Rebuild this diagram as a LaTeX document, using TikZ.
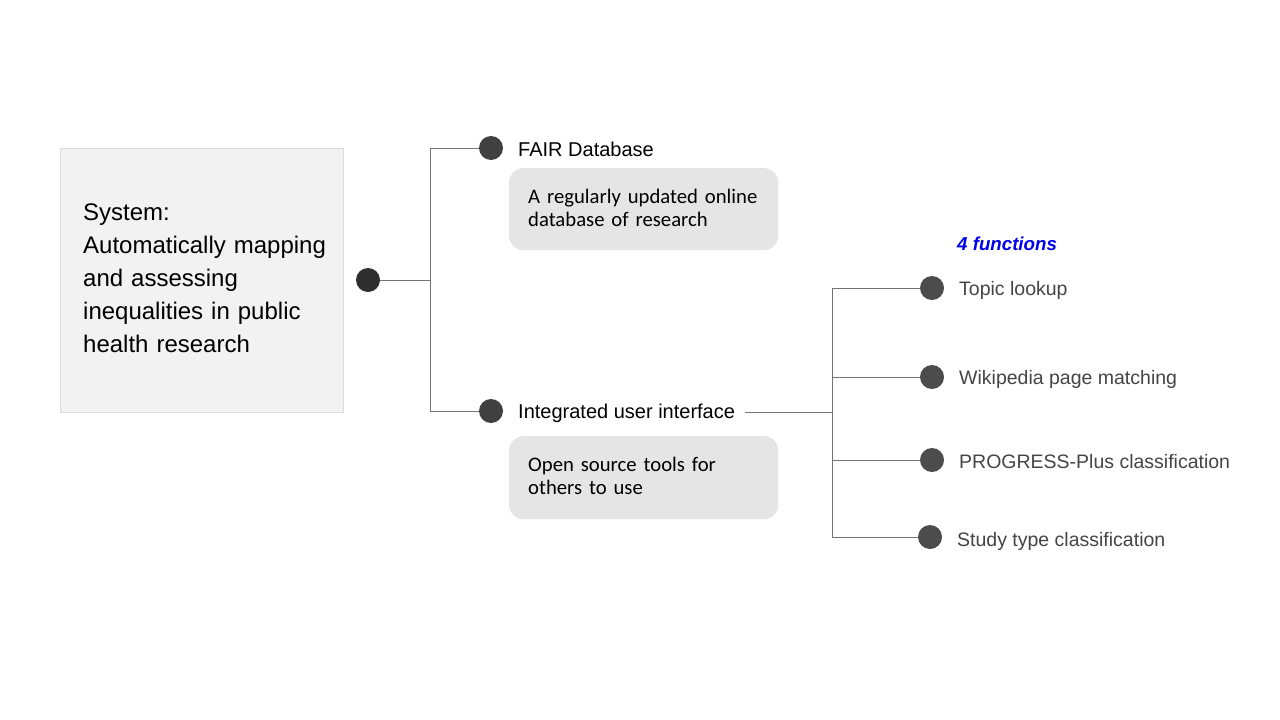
\documentclass[tikz,border=0pt]{standalone}
\usepackage{fontspec}
\setmainfont{Liberation Sans}
\newfontfamily\calfont{Carlito}
\begin{document}
\begin{tikzpicture}[x=1pt,y=-1pt,
  conn/.style={draw=black!55,line width=0.9pt},
  bullet/.style={circle,fill=#1,minimum size=24pt,inner sep=0pt},
  bullet/.default={black!75},
  lbl/.style={anchor=west,inner sep=0pt,font=\fontsize{20}{24}\selectfont},
  flbl/.style={anchor=west,inner sep=0pt,text=black!73,font=\fontsize{19.5}{23}\selectfont},
  note/.style={rounded corners=14pt,fill=black!10,draw=none,minimum width=269pt,anchor=north west,inner sep=0pt},
  notetxt/.style={anchor=north west,inner sep=0pt,text width=250pt,align=left,font=\calfont\fontsize{20.7}{23}\selectfont}
]
\useasboundingbox (0,0) rectangle (1280,720);
\fill[white] (0,0) rectangle (1280,720);

% System box
\node[draw=black!14,fill=black!5,line width=1.2pt,minimum width=283pt,minimum height=264pt,anchor=north west,inner sep=0pt] (sys) at (60,148) {};
\node[anchor=north west,text width=258pt,align=left,inner sep=0pt,font=\fontsize{24}{33}\selectfont] (systxt) at (83,204) {System:\\Automatically mapping\\and assessing\\inequalities in public\\health research};

% root dot
\node[bullet=black!82] (root) at (368,280) {};
\coordinate (j1) at (430,280);
\coordinate (j1t) at (430,148);
\coordinate (j1b) at (430,411);

% FAIR
\node[bullet] (fair) at (491,148) {};
\node[lbl] (fairt) at (518,149) {FAIR Database};
\node[note,minimum height=82pt] (fairn) at (509,168) {};
\node[notetxt] (fairnt) at (528,189) {A regularly updated online\\database of research};

% Interface
\node[bullet] (ui) at (491,411) {};
\node[lbl] (uit) at (518,413) {Integrated user interface};
\node[note,minimum height=83pt] (uin) at (509,436) {};
\node[notetxt] (uint) at (528,457) {Open source tools for\\others to use};

\draw[conn] (root.east) -- (j1);
\draw[conn] (j1t) -- (j1b);
\draw[conn] (j1t) -- (fair.west);
\draw[conn] (j1b) -- (ui.west);

% functions
\node[anchor=west,inner sep=0pt,text=blue!92!black,font=\bfseries\itshape\fontsize{18.7}{22}\selectfont] (fn) at (957,244) {4 functions};

\node[bullet=black!70] (f1) at (932,288) {};
\node[bullet=black!70] (f2) at (932,377) {};
\node[bullet=black!70] (f3) at (932,460) {};
\node[bullet=black!70] (f4) at (930,537) {};
\node[flbl] (f1t) at (959,290) {Topic lookup};
\node[flbl] (f2t) at (959,379) {Wikipedia page matching};
\node[flbl] (f3t) at (959,462) {PROGRESS-Plus classification};
\node[flbl] (f4t) at (957,541) {Study type classification};

\coordinate (uiend) at (745,412);
\coordinate (j2) at (832,412);
\coordinate (j2t) at (832,288);
\coordinate (j2a) at (832,377);
\coordinate (j2c) at (832,460);
\coordinate (j2b) at (832,537);
\draw[conn] (uiend) -- (j2);
\draw[conn] (j2t) -- (j2b);
\draw[conn] (j2t) -- (f1.west);
\draw[conn] (j2a) -- (f2.west);
\draw[conn] (j2c) -- (f3.west);
\draw[conn] (j2b) -- (f4.west);
\end{tikzpicture}
\end{document}
